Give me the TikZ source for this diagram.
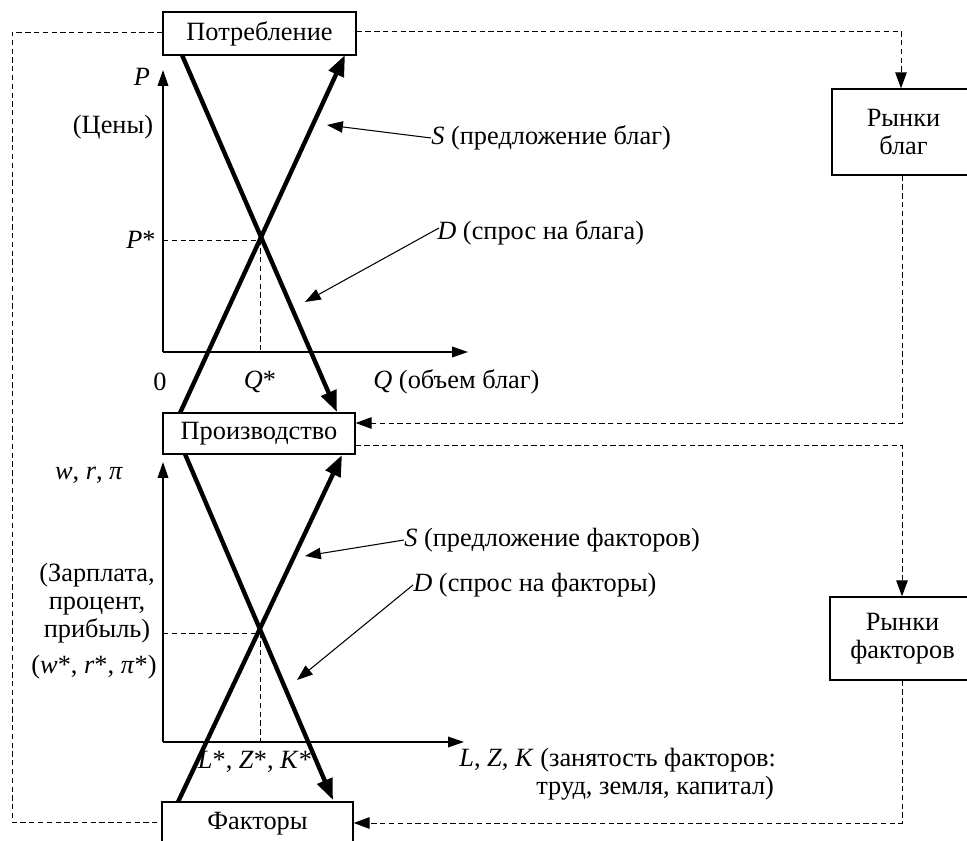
\documentclass[tikz,border=0pt]{standalone}
\usepackage{fontspec}
\setmainfont{Liberation Serif}
\usetikzlibrary{arrows.meta,calc}
\begin{document}
\begin{tikzpicture}[x=0.02cm,y=-0.02cm,
  every node/.style={font=\fontsize{15}{15.8}\selectfont, inner sep=0pt},
  box/.style={draw, line width=0.8pt, inner sep=0pt, align=center},
  dashconn/.style={dash pattern=on 3pt off 2pt, line width=0.55pt},
  dasharrow/.style={dashconn, -{Triangle[length=9pt,width=6.5pt]}},
  curve/.style={line width=2.5pt, -{Triangle[length=12pt,width=9pt]}},
  axis/.style={line width=0.8pt, -{Triangle[length=9pt,width=6pt]}},
  ptr/.style={line width=0.6pt, -{Triangle[length=9pt,width=6.5pt]}},
  guide/.style={dash pattern=on 3pt off 2pt, line width=0.55pt},
]
\useasboundingbox (0,0) rectangle (967,841);

% boxes
\node[box, minimum width=3.86cm, minimum height=0.86cm] (potr) at (259.5,33.5) {Потребление};
\node[box, minimum width=3.84cm, minimum height=0.82cm] (proizv) at (259,433.5) {Производство};
\node[box, minimum width=3.82cm, minimum height=0.88cm] (fakt) at (257.5,824) {Факторы};
\node[box, minimum width=2.86cm, minimum height=1.72cm] (rb) at (903.5,132) {Рынки\\благ};
\node[box, minimum width=2.9cm, minimum height=1.66cm] (rf) at (902.5,638.5) {Рынки\\факторов};

% dashed connectors
\coordinate (t1) at (901,31);
\coordinate (t2) at (902,423);
\coordinate (t3) at (902,445);
\coordinate (t4) at (902,823);
\coordinate (t5) at (12,32);
\coordinate (t6) at (12,822);
\draw[dasharrow] (potr.east |- t1) -- (t1) -- (rb.north -| t1);
\draw[dasharrow] (rb.south -| t2) -- (t2) -- (t2 -| proizv.east);
\draw[dasharrow] (t3 -| proizv.east) -- (t3) -- (rf.north -| t3);
\draw[dasharrow] (rf.south -| t4) -- (t4) -- (t4 -| fakt.east);
\draw[dashconn] (t5 -| potr.west) -- (t5) -- (t6) -- (t6 -| fakt.west);

% upper graph
\coordinate (O1) at (163,352);
\coordinate (Y1) at (163,70);
\coordinate (X1) at (468,352);
\coordinate (E1) at (260,240);
\draw[axis] (O1) -- (Y1);
\draw[axis] (O1) -- (X1);
\draw[guide] (E1 -| O1) -- (E1) -- (E1 |- O1);
\coordinate (D1a) at (182,55);
\coordinate (D1b) at (337,412);
\coordinate (S1a) at (180,413);
\coordinate (S1b) at (345,55);
\draw[curve] (D1a) -- (D1b);
\draw[curve] (S1a) -- (S1b);

\node (lP) at (142,77) {\textit{P}};
\node (lCeny) at (113,127) {(Цены)};
\node (lPs) at (141,240) {\textit{P}*};
\node (l0) at (160,382) {0};
\node (lQs) at (260,382) {\textit{Q}*};
\node[anchor=west] (lQ) at (373,382) {\textit{Q} (объем благ)};
\node[anchor=west] (lS1) at (431,138) {\textit{S} (предложение благ)};
\node[anchor=west] (lD1) at (437,233) {\textit{D} (спрос на блага)};
\coordinate (pS1) at (327,125);
\coordinate (pD1) at (305,302);
\draw[ptr] (lS1.west) -- (pS1);
\draw[ptr] ($(lD1.west)+(2,-5)$) -- (pD1);

% lower graph
\coordinate (O2) at (163,742);
\coordinate (Y2) at (163,462);
\coordinate (X2) at (464,742);
\coordinate (E2) at (260,633);
\draw[axis] (O2) -- (Y2);
\draw[axis] (O2) -- (X2);
\draw[guide] (E2 -| O2) -- (E2) -- (E2 |- O2);
\coordinate (D2a) at (185,454);
\coordinate (D2b) at (333,800);
\coordinate (S2a) at (178,802);
\coordinate (S2b) at (342,455);
\draw[curve] (D2a) -- (D2b);
\draw[curve] (S2a) -- (S2b);

\node (lw) at (89,475) {\textit{w}, \textit{r}, \textit{π}};
\node[align=center] (lZ) at (97,603) {(Зарплата,\\процент,\\прибыль)};
\node (lws) at (94,667) {(\textit{w}*, \textit{r}*, \textit{π}*)};
\node (lLs) at (255,762) {\textit{L}*, \textit{Z}*, \textit{K}*};
\node[anchor=west] (lL) at (459,760) {\textit{L}, \textit{Z}, \textit{K} (занятость факторов:};
\node[anchor=west] (lL2) at (536,788) {труд, земля, капитал)};
\node[anchor=west] (lS2) at (404,540) {\textit{S} (предложение факторов)};
\node[anchor=west] (lD2) at (413,585) {\textit{D} (спрос на факторы)};
\coordinate (pS2) at (305,556);
\coordinate (pD2) at (297,680);
\draw[ptr] (lS2.west) -- (pS2);
\draw[ptr] (lD2.west) -- (pD2);
\end{tikzpicture}
\end{document}
